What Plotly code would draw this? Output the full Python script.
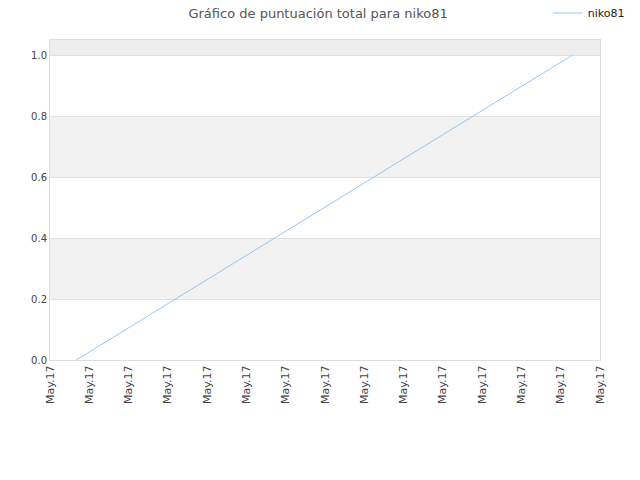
import plotly.graph_objects as go

# data
fechas = ["2017-05-02 08:00", "2017-05-27 14:00"]
puntos = [0.0, 1.0]
bandas = [(0.2, 0.4), (0.6, 0.8)]
x_inicio = "2017-05-01"
x_fin = "2017-05-29"

fig = go.Figure()
fig.add_trace(go.Scatter(
    x=fechas, y=puntos, mode="lines", name="niko81",
    line=dict(color="#99c8f5", width=1),
))

for y0, y1 in bandas:
    fig.add_hrect(y0=y0, y1=y1, fillcolor="#f2f2f2", line_width=0, layer="below")
fig.add_hrect(y0=1.0, y1=1.05, fillcolor="#eeeeee", line_width=0, layer="below")

fig.update_layout(
    width=640, height=480,
    margin=dict(l=50, r=40, t=40, b=120, autoexpand=False),
    paper_bgcolor="white", plot_bgcolor="white",
    font=dict(family="DejaVu Sans", size=10, color="#444"),
    title=dict(text="Gráfico de puntuación total para niko81", x=0.497, xanchor="center",
               xref="container", y=0.973, yanchor="middle", font=dict(size=13, color="#555")),
    showlegend=True,
    legend=dict(xref="container", yref="container", x=0.984, y=0.973,
                xanchor="right", yanchor="middle",
                font=dict(size=11, color="#222"), itemwidth=30,
                bgcolor="rgba(0,0,0,0)"),
)
fig.update_xaxes(
    type="date", range=[x_inicio, x_fin], dtick=2 * 86400000, tick0=x_inicio,
    tickformat="%b.%y", tickangle=-90, showgrid=False, zeroline=False,
    showline=True, linecolor="#dddddd", mirror=True, ticks="",
    tickfont=dict(size=11, color="#444"),
)
fig.update_yaxes(
    range=[0, 1.05], dtick=0.2, tickformat=".1f", showgrid=True, gridcolor="#e2e2e2",
    zeroline=False, showline=True, linecolor="#dddddd", mirror=True, ticks="",
    tickfont=dict(size=10, color="#444"),
)

fig.write_html("out.html", config={"displayModeBar": False},
               post_script="document.body.style.margin='0px';")
